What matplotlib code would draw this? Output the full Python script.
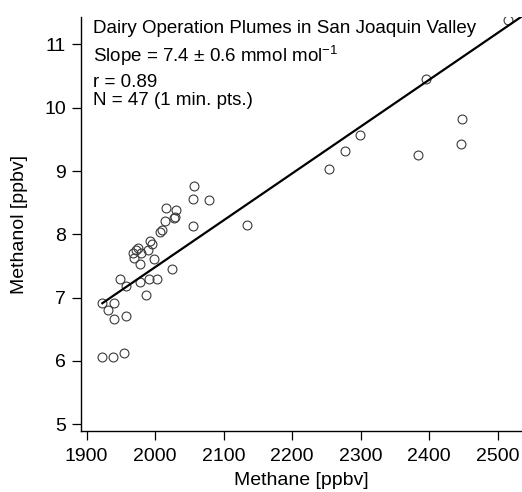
import matplotlib
matplotlib.use("Agg")
import matplotlib.pyplot as plt
import numpy as np

plt.rcParams["font.family"] = ["Liberation Sans", "DejaVu Sans"]
plt.rcParams["mathtext.fontset"] = "custom"
plt.rcParams["mathtext.rm"] = "Liberation Sans"
plt.rcParams["mathtext.default"] = "regular"

# 1-min plume points
methane = [1923, 1940, 1931, 1940, 1958, 1923, 1939, 1955,
           1949, 1957, 1978, 1991, 2003, 1987, 2024, 1978,
           1969, 1968, 1972, 1975, 1980, 1990, 1993, 1996,
           1998, 2007, 2010, 2015, 2016, 2031, 2027, 2029,
           2057, 2056, 2078, 2056, 2134, 2254, 2277, 2299,
           2383, 2448, 2447, 2395, 2515]
methanol = [6.91, 6.91, 6.80, 6.66, 6.71, 6.06, 6.07, 6.13,
            7.29, 7.19, 7.24, 7.29, 7.29, 7.04, 7.46, 7.53,
            7.63, 7.71, 7.76, 7.78, 7.70, 7.75, 7.90, 7.85,
            7.61, 8.03, 8.07, 8.21, 8.41, 8.38, 8.26, 8.28,
            8.77, 8.56, 8.54, 8.13, 8.14, 9.03, 9.32, 9.57,
            9.25, 9.83, 9.42, 10.46, 11.38]

# fit line
slope = 0.0074
intercept = -7.318

x_ticks = [1900, 2000, 2100, 2200, 2300, 2400, 2500]
y_ticks = [5, 6, 7, 8, 9, 10, 11]
xlim = (1891.7, 2535.5)
ylim = (4.894, 11.43)

fig = plt.figure(figsize=(5.22, 4.92), dpi=100)
ax = fig.add_axes([0.155, 0.124, 0.845, 0.841])

ax.plot(methane, methanol, "o", ms=6.4, mfc="none", mec="#3a3a3a", mew=0.8)
fx = np.array([min(methane), xlim[1]])
ax.plot(fx, intercept + slope * fx, color="black", lw=1.6)

ax.set_xlim(*xlim)
ax.set_ylim(*ylim)
ax.set_xticks(x_ticks)
ax.set_yticks(y_ticks)
ax.spines["top"].set_visible(False)
ax.spines["right"].set_visible(False)
for s in ("left", "bottom"):
    ax.spines[s].set_linewidth(1.0)
ax.tick_params(direction="out", length=6.3, width=0.9, labelsize=14)
ax.tick_params(axis="x", pad=6.2)
ax.tick_params(axis="y", pad=4.3)
ax.set_xlabel("Methane [ppbv]", fontsize=14, labelpad=4.6)
ax.set_ylabel("Methanol [ppbv]", fontsize=14, labelpad=11.5)

lines = ["Dairy Operation Plumes in San Joaquin Valley",
         "Slope = 7.4 ± 0.6 mmol mol$^{-1}$",
         "r = 0.89",
         "N = 47 (1 min. pts.)"]
baselines = [0.961, 0.891, 0.832, 0.788]
for t, y in zip(lines, baselines):
    ax.text(0.028, y, t, transform=ax.transAxes, fontsize=13.5,
            ha="left", va="baseline")

fig.savefig("out.png", dpi=100)
